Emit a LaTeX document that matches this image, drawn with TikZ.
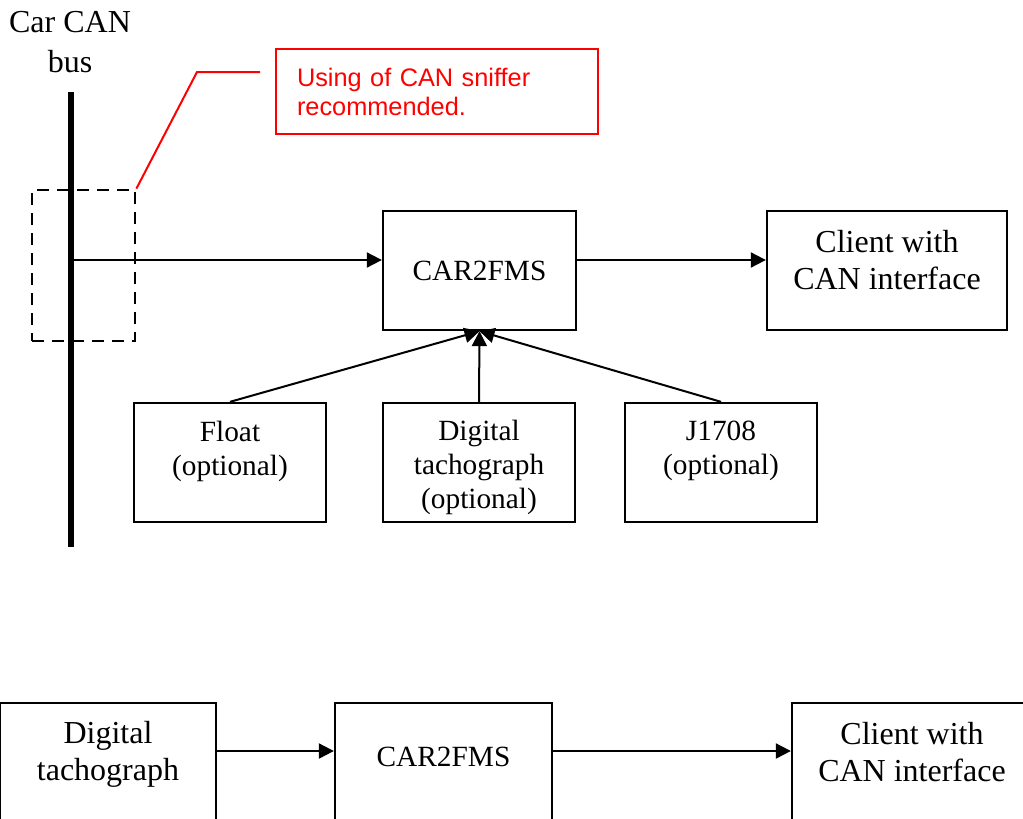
\documentclass[tikz,border=0pt]{standalone}
\usepackage{fontspec}
\setmainfont{Liberation Serif}
\newfontfamily\redfont{Liberation Sans}
\usetikzlibrary{arrows.meta,calc}
\tikzset{
  box/.style={draw, line width=1.75pt, inner sep=0pt, minimum height=89.25pt},
  conn/.style={line width=1.5pt, -{Triangle[length=11.25pt,width=11.25pt]}},
  smalltxt/.style={align=center, inner sep=0pt, font=\fontsize{22pt}{25.5pt}\selectfont},
  bigtxt/.style={align=center, inner sep=0pt, font=\fontsize{24pt}{27.75pt}\selectfont},
}
\begin{document}
\begin{tikzpicture}[x=0.75pt, y=-0.75pt]
\useasboundingbox (0,0) rectangle (1023,818);
% bus
\node[align=center, inner sep=0pt, font=\fontsize{24pt}{30pt}\selectfont] (buslabel) at (70,42) {Car CAN\\bus};
\coordinate (bustop) at (71,92);
\coordinate (busbot) at (71,547);
\draw[line width=4.5pt] (bustop) -- (busbot);
\coordinate (tap) at (71,260);
% sniffer region
\node[draw, dash pattern=on 9pt off 6pt, line width=2.1pt, minimum width=77.25pt, minimum height=113.25pt, inner sep=0pt] (sniffer) at (83.5,265.5) {};
% note
\node[draw=red, line width=1.5pt, text=red, font=\redfont\fontsize{19pt}{21.75pt}\selectfont, text width=210pt, align=left, inner xsep=15.75pt, inner ysep=0pt, minimum height=63.75pt] (note) at (437,91.5) {Using of CAN sniffer\\recommended.};
\coordinate (bend) at (197,72);
\coordinate (noteend) at (260,72);
\draw[red, line width=1.5pt] (sniffer.north east) -- (bend) -- (noteend);
% top row
\node[box, minimum width=144.75pt, smalltxt] (car) at (479.5,270.5) {CAR2FMS};
\node[box, minimum width=180pt] (client) at (887,270.5) {};
\node[bigtxt] (clientT) at (887,260) {Client with\\CAN interface};
\draw[conn] (tap) -- (car.west |- tap);
\draw[conn] (car.east |- tap) -- (client.west |- tap);
% inputs
\node[box, minimum width=144pt] (float) at (230,462.5) {};
\node[smalltxt] (floatT) at (230,451) {Float\\(optional)};
\node[box, minimum width=144pt] (tacho) at (479,462.5) {};
\node[smalltxt] (tachoT) at (479,467) {Digital\\tachograph\\(optional)};
\node[box, minimum width=144pt] (j1708) at (721,462.5) {};
\node[smalltxt] (j1708T) at (721,451) {J1708\\(optional)};
\draw[conn] (float.north) -- (car.south);
\draw[conn] (tacho.north) -- (car.south);
\draw[conn] (j1708.north) -- (car.south);
% bottom row
\coordinate (ay) at (0,751);
\node[box, minimum width=162pt] (tacho2) at (108,762.5) {};
\node[bigtxt] (tacho2T) at (108,754) {Digital\\tachograph};
\node[box, minimum width=162.75pt] (car2) at (443.5,762.5) {};
\node[smalltxt] (car2T) at (443.5,757) {CAR2FMS};
\node[box, minimum width=180pt] (client2) at (912,762.5) {};
\node[bigtxt] (client2T) at (912,752.5) {Client with\\CAN interface};
\draw[conn] (tacho2.east |- ay) -- (car2.west |- ay);
\draw[conn] (car2.east |- ay) -- (client2.west |- ay);
\end{tikzpicture}
\end{document}
